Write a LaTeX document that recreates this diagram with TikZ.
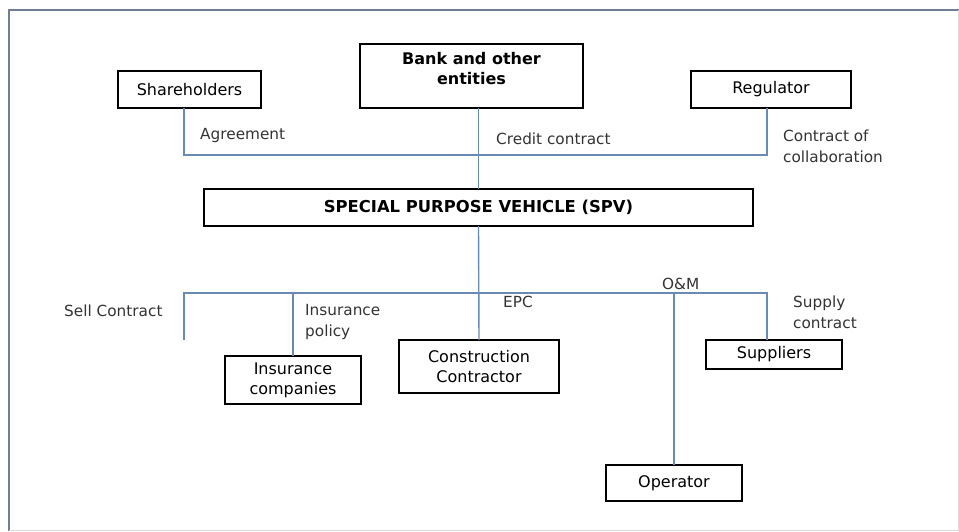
\documentclass[tikz,border=0pt]{standalone}
\usepackage{fontspec}
\setmainfont{DejaVu Sans}
\definecolor{linkblue}{HTML}{6A8AB6}
\definecolor{framegray}{HTML}{6F7E92}
\definecolor{tagtext}{HTML}{333333}

\tikzset{
  box/.style={draw=black,line width=1.3pt,inner sep=0pt,outer sep=0pt,
    align=center,font=\fontsize{16}{20}\selectfont},
  link/.style={draw=linkblue,line width=1.4pt},
  tag/.style={anchor=west,align=left,inner sep=0pt,text=tagtext,
    font=\fontsize{15.3}{21}\selectfont},
}

\begin{document}
\begin{tikzpicture}[x=1pt,y=-1pt]
  \useasboundingbox (0,0) rectangle (959,531);
  % outer frame
  \draw[framegray,line width=1.2pt] (959,10) -- (9,10) -- (9,531);
  \draw[black!15,line width=1pt] (9,530) -- (958,530) -- (958,10);

  % boxes
  \node[box,minimum width=143pt,minimum height=37pt] (share) at (189.5,89.5) {Shareholders};
  \node[box,minimum width=223pt,minimum height=64pt,text depth=16pt,
    font=\fontsize{16}{20}\selectfont\bfseries] (bank) at (471.5,76) {Bank and other\\entities};
  \node[box,minimum width=160pt,minimum height=37pt] (reg) at (771,89.5) {Regulator};
  \node[box,minimum width=549pt,minimum height=37pt,font=\fontsize{16.4}{20}\selectfont\bfseries]
    (spv) at (478.5,207.5) {SPECIAL PURPOSE VEHICLE (SPV)};
  \node[box,minimum width=136pt,minimum height=48pt] (ins) at (293,380) {Insurance\\companies};
  \node[box,minimum width=160pt,minimum height=53pt] (cons) at (479,366.5) {Construction\\Contractor};
  \node[box,minimum width=136pt,minimum height=29pt] (sup) at (774,354.5) {Suppliers};
  \node[box,minimum width=136pt,minimum height=36pt] (op) at (674,483) {Operator};

  % junctions
  \coordinate (upL) at (184,155);
  \coordinate (upR) at (767,155);
  \coordinate (lowL) at (184,293);
  \coordinate (lowR) at (767,293);
  \coordinate (sell) at (184,340);

  % connectors above the SPV
  \draw[link] (share.south -| upL) -- (upL) -- (upR) -- (reg.south -| upR);
  \draw[link] (bank.south -| spv.north) -- (spv.north);

  % connectors below the SPV
  \draw[link] (sell) -- (lowL) -- (lowR) -- (sup.north -| lowR);
  \draw[link] (spv.south) -- (cons.north);
  \draw[link] (lowL -| ins.north) -- (ins.north);
  \draw[link] (lowL -| op.north) -- (op.north);

  % labels
  \node[tag] (agree) at (200,136) {Agreement};
  \node[tag] (credit) at (496,139) {Credit contract};
  \node[tag] (collab) at (783,146.5) {Contract of\\collaboration};
  \node[tag] (sellc) at (64,311) {Sell Contract};
  \node[tag] (policy) at (305,322) {Insurance\\policy};
  \node[tag] (epc) at (503,302) {EPC};
  \node[tag] (om) at (662,284) {O\&M};
  \node[tag] (supply) at (793,312.5) {Supply\\contract};
\end{tikzpicture}
\end{document}
